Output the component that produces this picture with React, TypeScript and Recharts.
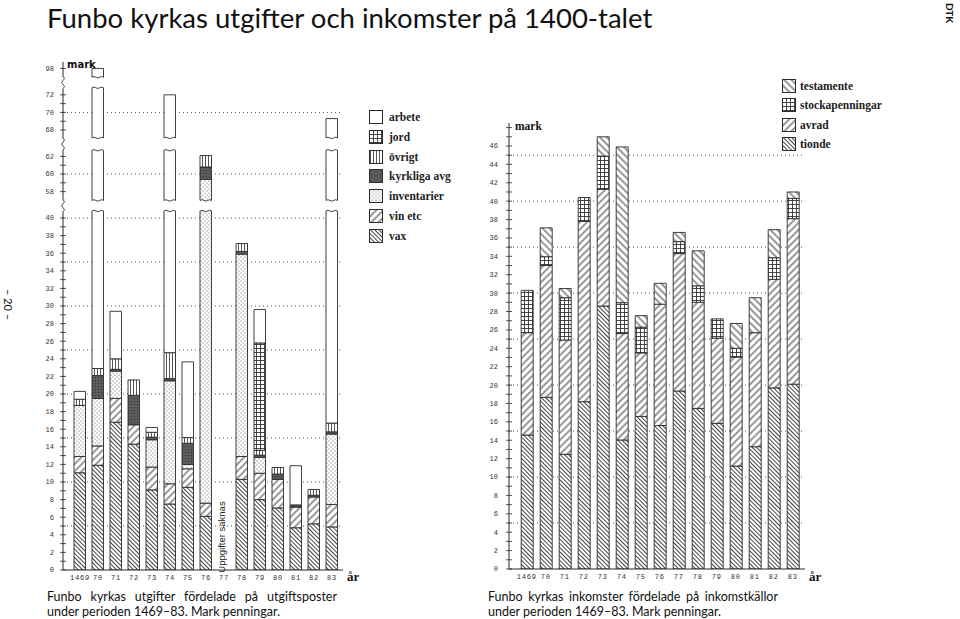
import React from 'react';
import { BarChart, Bar, XAxis, YAxis, CartesianGrid } from 'recharts';

const YEARS = ['1469', '70', '71', '72', '73', '74', '75', '76', '77', '78', '79', '80', '81', '82', '83'];

// utgifter (mark), listed from the bottom of each bar upward
const vax = [11.05, 11.9, 16.8, 14.3, 9.1, 7.5, 9.4, 6.1, 0, 10.3, 8.0, 7.05, 4.8, 5.25, 4.9];
const vinEtc = [1.85, 2.2, 2.7, 2.2, 2.6, 2.3, 2.1, 1.5, 0, 2.6, 3.0, 3.25, 2.35, 3.05, 2.55];
const inventarier = [5.8, 5.4, 3.1, 0, 3.1, 11.7, 0.5, 51.8, 0, 23.0, 1.8, 0, 0, 0, 8.0];
const kyrkligaAvg = [0, 2.6, 0.2, 3.35, 0.3, 0.25, 2.4, 1.4, 0, 0.3, 0.25, 0.6, 0.25, 0.2, 0.25];
const ovrigt = [0.7, 0.8, 1.2, 1.75, 0.55, 2.95, 0.65, 1.3, 0, 0.9, 0.55, 0.75, 0, 0.65, 1.0];
const jord = [0, 0, 0, 0, 0, 0, 0, 0, 0, 0, 12.2, 0, 0, 0, 0];
const arbete = [0.9, 75.1, 5.4, 0, 0.55, 47.3, 8.6, 0, 0, 0, 3.8, 0, 4.45, 0, 52.6];

// inkomster (mark)
const tionde = [14.57, 18.67, 12.47, 18.2, 28.6, 14.03, 16.6, 15.6, 19.36, 17.47, 15.84, 11.2, 13.3, 19.7, 20.1];
const avrad = [11.13, 14.33, 12.43, 19.6, 12.7, 11.57, 6.9, 13.2, 14.94, 11.53, 9.26, 11.85, 12.4, 11.8, 18.0];
const stockapenningar = [4.6, 0.96, 4.6, 2.6, 3.6, 3.36, 2.8, 0, 1.3, 1.8, 2.1, 0.95, 0, 2.35, 2.2];
const testamente = [0, 3.14, 1.0, 0, 2.1, 16.94, 1.25, 2.27, 1.0, 3.8, 0, 2.7, 3.8, 3.05, 0.7];

const range = (a: number, b: number) => Array.from({ length: b - a + 1 }, (_, i) => a + i);
const SPEND_TICKS = [...range(0, 40), ...range(57, 62), ...range(67, 72), 97, 98];
const SPEND_GRID = [5, 10, 15, 20, 25, 30, 35, 40, 60, 70];
const INCOME_TICKS = range(0, 48);
const INCOME_GRID = [5, 10, 15, 20, 25, 30, 35, 40, 45];

// broken axis on the left chart: 41-57, 63-67 and 73-97 are cut out
const brk = (v: number) => (v <= 50 ? v : v <= 65 ? v - 15 : v <= 85 ? v - 18 : v - 41);
const unbrk = (d: number) => (d <= 41.4 ? d : d <= 48.4 ? d + 15 : d <= 55.4 ? d + 18 : d + 41);
const GAPS = [[40.8, 42.0], [47.7, 49.1], [54.8, 56.0]];
const BREAK_TICKS = [41.4, 48.4, 55.4];

const SPEND = [
  { key: 'vax', label: 'vax', values: vax },
  { key: 'vin', label: 'vin etc', values: vinEtc },
  { key: 'inv', label: 'inventarier', values: inventarier },
  { key: 'kyrk', label: 'kyrkliga avg', values: kyrkligaAvg },
  { key: 'ovr', label: 'övrigt', values: ovrigt },
  { key: 'jord', label: 'jord', values: jord },
  { key: 'arbete', label: 'arbete', values: arbete },
];

const INCOME = [
  { key: 'tionde', label: 'tionde', values: tionde },
  { key: 'avrad', label: 'avrad', values: avrad },
  { key: 'stock', label: 'stockapenningar', values: stockapenningar },
  { key: 'test', label: 'testamente', values: testamente },
];

const spendRows = YEARS.map((year, i) => {
  const row: any = { year };
  let cum = 0;
  SPEND.forEach((s) => {
    const lo = brk(cum);
    cum += s.values[i];
    const hi = brk(cum);
    row[s.key] = hi - lo;
    row[s.key + '_lo'] = lo;
    row[s.key + '_hi'] = hi;
  });
  return row;
});

const incomeRows = YEARS.map((year, i) => {
  const row: any = { year };
  INCOME.forEach((s) => (row[s.key] = s.values[i]));
  return row;
});

const INK = '#2b2b2b';
const MONO = '"Liberation Mono", "DejaVu Sans Mono", monospace';
const SERIF = '"Liberation Serif", "DejaVu Serif", serif';
const SANS = 'Lato, "Open Sans", sans-serif';

function Patterns() {
  return (
    <svg width={0} height={0} style={{ position: 'absolute' }}>
      <defs>
        <pattern id="p-vax" width="3" height="3" patternUnits="userSpaceOnUse" patternTransform="rotate(-45)">
          <rect width="3" height="3" fill="#fff" />
          <line x1="0.5" y1="0" x2="0.5" y2="3" stroke="#444" strokeWidth="1" />
        </pattern>
        <pattern id="p-tionde" width="3" height="3" patternUnits="userSpaceOnUse" patternTransform="rotate(-45)">
          <rect width="3" height="3" fill="#fff" />
          <line x1="0.5" y1="0" x2="0.5" y2="3" stroke="#444" strokeWidth="1" />
        </pattern>
        <pattern id="p-vin" width="5" height="5" patternUnits="userSpaceOnUse" patternTransform="rotate(45)">
          <rect width="5" height="5" fill="#fff" />
          <line x1="1" y1="0" x2="1" y2="5" stroke="#333" strokeWidth="1" />
        </pattern>
        <pattern id="p-avrad" width="5" height="5" patternUnits="userSpaceOnUse" patternTransform="rotate(45)">
          <rect width="5" height="5" fill="#fff" />
          <line x1="1" y1="0" x2="1" y2="5" stroke="#333" strokeWidth="1" />
        </pattern>
        <pattern id="p-test" width="5" height="5" patternUnits="userSpaceOnUse" patternTransform="rotate(-45)">
          <rect width="5" height="5" fill="#fff" />
          <line x1="1" y1="0" x2="1" y2="5" stroke="#333" strokeWidth="1" />
        </pattern>
        <pattern id="p-inv" width="4" height="4" patternUnits="userSpaceOnUse">
          <rect width="4" height="4" fill="#fff" />
          <circle cx="1" cy="1" r="0.6" fill="#555" />
          <circle cx="3" cy="3" r="0.6" fill="#555" />
        </pattern>
        <pattern id="p-ovr" width="3" height="3" patternUnits="userSpaceOnUse">
          <rect width="3" height="3" fill="#fff" />
          <line x1="1.5" y1="0" x2="1.5" y2="3" stroke="#444" strokeWidth="0.9" />
        </pattern>
        <pattern id="p-jord" width="4" height="4" patternUnits="userSpaceOnUse">
          <rect width="4" height="4" fill="#fff" />
          <path d="M0,0.5 H4 M0.5,0 V4" stroke="#333" strokeWidth="0.9" />
        </pattern>
        <pattern id="p-stock" width="4" height="4" patternUnits="userSpaceOnUse">
          <rect width="4" height="4" fill="#fff" />
          <path d="M0,0.5 H4 M0.5,0 V4" stroke="#333" strokeWidth="0.9" />
        </pattern>
        <pattern id="p-kyrk" width="3" height="3" patternUnits="userSpaceOnUse">
          <rect width="3" height="3" fill="#555" />
          <circle cx="1" cy="1" r="0.6" fill="#8a8a8a" />
          <circle cx="2.4" cy="2.2" r="0.5" fill="#333" />
        </pattern>
        <pattern id="p-arbete" width="4" height="4" patternUnits="userSpaceOnUse">
          <rect width="4" height="4" fill="#fff" />
        </pattern>
      </defs>
    </svg>
  );
}

function wave(x0: number, x1: number, y: number, amp: number) {
  const n = 3;
  const step = (x1 - x0) / n;
  let d = '';
  for (let i = 0; i < n; i++) {
    const xa = x0 + step * (i + 0.5);
    const xb = x0 + step * (i + 1);
    d += ` Q${xa},${y + (i % 2 ? amp : -amp)} ${xb},${y}`;
  }
  return d;
}

function piecePath(x: number, w: number, top: number, bot: number, wavyTop: boolean, wavyBot: boolean) {
  let d = `M${x},${bot} L${x},${top}`;
  d += wavyTop ? wave(x, x + w, top, 1.4) : ` L${x + w},${top}`;
  d += ` L${x + w},${bot}`;
  d += wavyBot ? wave(x + w, x, bot, 1.4) : ` L${x},${bot}`;
  return d + ' Z';
}

// bar segment that leaves the axis breaks empty
function CutBar(props: any) {
  const { x, y, width, height, fill, payload, k } = props;
  if (!height || height < 0.05 || !payload) return <g />;
  const lo = payload[k + '_lo'];
  const hi = payload[k + '_hi'];
  const px = height / (hi - lo);
  const toY = (v: number) => y + (hi - v) * px;
  let pieces = [{ a: lo, b: hi, cutA: false, cutB: false }];
  GAPS.forEach(([g0, g1]) => {
    pieces = pieces.flatMap((p) => {
      if (g1 <= p.a || g0 >= p.b) return [p];
      const out: any[] = [];
      if (g0 > p.a) out.push({ a: p.a, b: g0, cutA: p.cutA, cutB: true });
      if (g1 < p.b) out.push({ a: g1, b: p.b, cutA: true, cutB: p.cutB });
      return out;
    });
  });
  return (
    <g>
      {pieces.map((p, i) => (
        <path
          key={i}
          d={piecePath(x, width, toY(p.b), toY(p.a), p.cutB, p.cutA)}
          fill={fill}
          stroke={INK}
          strokeWidth={0.9}
        />
      ))}
    </g>
  );
}

function SpendTick(props: any) {
  const { x, y, payload } = props;
  const d = payload.value;
  if (BREAK_TICKS.includes(d)) {
    return (
      <g>
        <rect x={x - 4} y={y - 6} width={8} height={12} fill="#fff" />
        <path
          d={`M${x},${y - 6} Q${x + 3},${y - 4} ${x},${y - 2} Q${x - 3},${y} ${x},${y + 2} Q${x + 3},${y + 4} ${x},${y + 6}`}
          fill="none"
          stroke={INK}
          strokeWidth={0.9}
        />
      </g>
    );
  }
  const v = Math.round(unbrk(d));
  return (
    <g>
      <line x1={x - 3} x2={x + 3} y1={y} y2={y} stroke={INK} strokeWidth={0.8} />
      {v % 2 === 0 && (
        <text x={x - 9} y={y} dy="0.35em" textAnchor="end" fontSize={7} fontFamily={MONO} fill="#333">
          {v}
        </text>
      )}
    </g>
  );
}

function IncomeTick(props: any) {
  const { x, y, payload } = props;
  const v = payload.value;
  return (
    <g>
      <line x1={x - 3} x2={x + 3} y1={y} y2={y} stroke={INK} strokeWidth={0.8} />
      {v % 2 === 0 && v <= 46 && (
        <text x={x - 11} y={y} dy="0.35em" textAnchor="end" fontSize={7} fontFamily={MONO} fill="#333">
          {v}
        </text>
      )}
    </g>
  );
}

function YearTick(props: any) {
  const { x, y, payload } = props;
  return (
    <text x={x} y={y + 8} dy="0.35em" textAnchor="middle" fontSize={7} letterSpacing={0.8} fontFamily={MONO} fill="#333">
      {payload.value}
    </text>
  );
}

function LegendBox({ items, boxX, textX, top, step }: any) {
  return (
    <>
      {items.map((it: any, i: number) => (
        <div key={it.key} style={{ position: 'absolute', left: boxX, top: top + i * step - 7, height: 14, display: 'flex', alignItems: 'center' }}>
          <svg width={14} height={14} style={{ display: 'block' }}>
            <rect x={0.5} y={0.5} width={13} height={13} fill={`url(#p-${it.key})`} stroke={INK} strokeWidth={1} />
          </svg>
          <span
            style={{
              marginLeft: textX - boxX - 14,
              fontFamily: SERIF,
              fontWeight: 700,
              fontSize: 11.5,
              color: '#222',
              whiteSpace: 'nowrap',
            }}
          >
            {it.label}
          </span>
        </div>
      ))}
    </>
  );
}

const abs = (s: React.CSSProperties): React.CSSProperties => ({ position: 'absolute', ...s });

const captionStyle = (left: number): React.CSSProperties =>
  abs({ left, top: 589, width: 290, fontFamily: SANS, fontSize: 12.5, lineHeight: '15px', color: '#111', whiteSpace: 'nowrap' });

export default function App() {
  const spendLegend = [...SPEND].reverse();
  const incomeLegend = [...INCOME].reverse();
  return (
    <div style={{ position: 'absolute', left: 0, top: 0, width: 960, height: 619, background: '#fff', overflow: 'hidden' }}>
      <Patterns />

      <div style={abs({ left: 47, top: 1, fontFamily: SANS, fontSize: 27.5, lineHeight: '34px', color: '#111', whiteSpace: 'nowrap' })}>
        Funbo kyrkas utgifter och inkomster på 1400-talet
      </div>
      <div style={abs({ left: 938, top: 9, width: 24, fontFamily: SANS, fontWeight: 700, fontSize: 10, transform: 'rotate(90deg)', color: '#111' })}>
        DTK
      </div>
      <div style={abs({ left: -10, top: 298, width: 36, textAlign: 'center', fontFamily: SANS, fontSize: 11, transform: 'rotate(90deg)', color: '#111' })}>
        – 20 –
      </div>

      {/* utgifter */}
      <div style={abs({ left: 0, top: 0 })}>
        <BarChart width={360} height={619} data={spendRows} margin={{ top: 62, right: 17, bottom: 0, left: 0 }} barSize={11.5}>
          <CartesianGrid vertical={false} horizontalValues={SPEND_GRID.map(brk)} stroke="#555" strokeDasharray="1 3" />
          <XAxis
            dataKey="year"
            height={49}
            interval={0}
            padding={{ left: 8, right: 2 }}
            tickSize={0}
            tickMargin={0}
            tickLine={false}
            axisLine={{ stroke: INK }}
            tick={YearTick}
          />
          <YAxis
            type="number"
            width={63}
            domain={[0, 57.73]}
            ticks={[...SPEND_TICKS.map(brk), ...BREAK_TICKS]}
            interval={0}
            tickSize={0}
            tickMargin={0}
            tickLine={false}
            axisLine={{ stroke: INK }}
            tick={SpendTick}
            allowDataOverflow
          />
          {SPEND.map((s) => (
            <Bar
              key={s.key}
              dataKey={s.key}
              stackId="u"
              fill={`url(#p-${s.key})`}
              isAnimationActive={false}
              shape={(p: any) => <CutBar {...p} k={s.key} />}
            />
          ))}
        </BarChart>
      </div>
      <div style={abs({ left: 67, top: 59, fontFamily: '"DejaVu Sans", sans-serif', fontWeight: 700, fontSize: 10, color: '#111' })}>mark</div>
      <div style={abs({ left: 347, top: 569, fontFamily: SERIF, fontWeight: 700, fontSize: 13, color: '#111' })}>år</div>
      <div
        style={abs({
          left: 222 - 40,
          top: 537 - 7,
          width: 80,
          height: 14,
          lineHeight: '14px',
          textAlign: 'center',
          transform: 'rotate(-90deg)',
          fontFamily: '"Liberation Sans", sans-serif',
          fontSize: 9.5,
          color: '#222',
        })}
      >
        Uppgifter saknas
      </div>
      <LegendBox items={spendLegend} boxX={369} textX={389} top={117} step={19.8} />

      {/* inkomster */}
      <div style={abs({ left: 440, top: 0 })}>
        <BarChart width={380} height={619} data={incomeRows} margin={{ top: 123, right: 15, bottom: 0, left: 0 }} barSize={12}>
          <CartesianGrid vertical={false} horizontalValues={INCOME_GRID} stroke="#555" strokeDasharray="1 3" />
          <XAxis
            dataKey="year"
            height={50}
            interval={0}
            padding={{ left: 8.2, right: 2.8 }}
            tickSize={0}
            tickMargin={0}
            tickLine={false}
            axisLine={{ stroke: INK }}
            tick={YearTick}
          />
          <YAxis
            type="number"
            width={69}
            domain={[0, 48.5]}
            ticks={INCOME_TICKS}
            interval={0}
            tickSize={0}
            tickMargin={0}
            tickLine={false}
            axisLine={{ stroke: INK }}
            tick={IncomeTick}
            allowDataOverflow
          />
          {INCOME.map((s) => (
            <Bar
              key={s.key}
              dataKey={s.key}
              stackId="i"
              fill={`url(#p-${s.key})`}
              stroke={INK}
              strokeWidth={0.9}
              isAnimationActive={false}
            />
          ))}
        </BarChart>
      </div>
      <div style={abs({ left: 515, top: 120, fontFamily: SERIF, fontWeight: 700, fontSize: 11.5, color: '#111' })}>mark</div>
      <div style={abs({ left: 809, top: 569, fontFamily: SERIF, fontWeight: 700, fontSize: 13, color: '#111' })}>år</div>
      <LegendBox items={incomeLegend} boxX={782} textX={800} top={86} step={19.3} />

      {/* captions */}
      <div style={captionStyle(47)}>
        <div style={{ textAlign: 'justify', textAlignLast: 'justify' }}>Funbo kyrkas utgifter fördelade på utgiftsposter</div>
        <div>under perioden 1469–83. Mark penningar.</div>
      </div>
      <div style={captionStyle(488)}>
        <div style={{ textAlign: 'justify', textAlignLast: 'justify' }}>Funbo kyrkas inkomster fördelade på inkomstkällor</div>
        <div>under perioden 1469–83. Mark penningar.</div>
      </div>
    </div>
  );
}
